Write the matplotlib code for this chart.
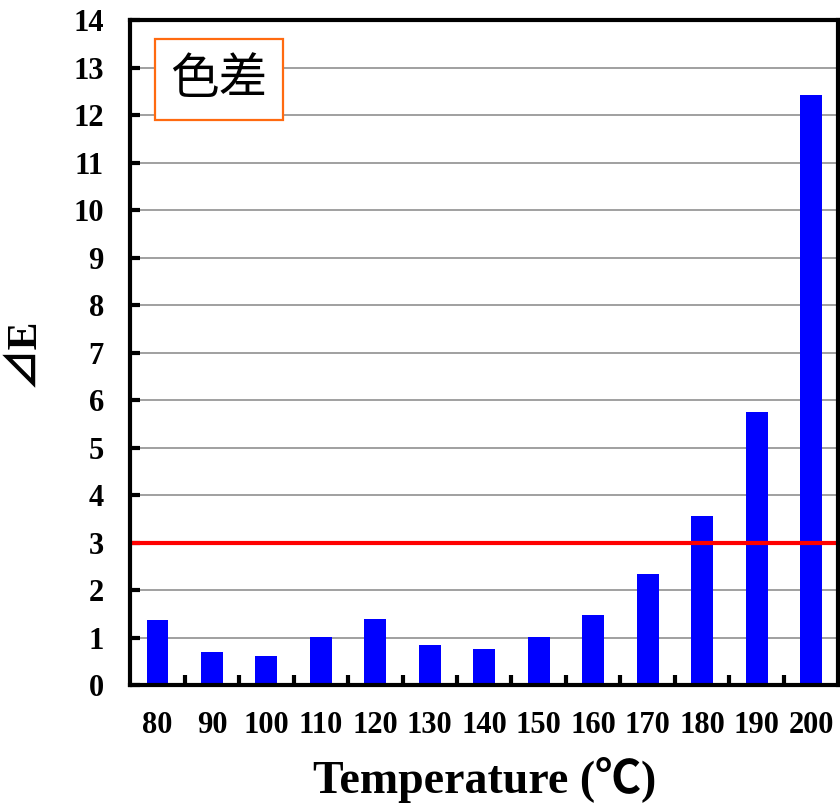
import matplotlib
matplotlib.use('Agg')
import matplotlib.pyplot as plt
import numpy as np

# Data
temperatures = ['80', '90', '100', '110', '120', '130', '140', '150', '160', '170', '180', '190', '200']
delta_e = [1.37, 0.70, 0.61, 1.02, 1.39, 0.85, 0.77, 1.01, 1.47, 2.34, 3.56, 5.76, 12.42]
threshold = 3.0
yticks = list(range(0, 15))

serif = ['Liberation Serif', 'Noto Sans CJK SC', 'DejaVu Sans']

fig = plt.figure(figsize=(8.4, 8.06), dpi=100)
ax = fig.add_axes([0.155, 0.150, 0.843, 0.825])

x = np.arange(len(temperatures))
ax.bar(x, delta_e, width=0.4, color='#0000FF', zorder=3)
ax.axhline(threshold, color='#FF0000', linewidth=3, zorder=4)

ax.set_xlim(-0.5, len(temperatures) - 0.5)
ax.set_ylim(0, 14)
ax.set_yticks(yticks)
ax.set_yticklabels([str(t) for t in yticks], family=serif, fontweight='bold', fontsize=22)
ax.set_xticks(x)
ax.set_xticklabels(temperatures, family=serif, fontweight='bold', fontsize=22)
ax.set_xticks(np.arange(0.5, len(temperatures) - 0.5, 1), minor=True)

ax.tick_params(axis='x', which='major', length=0, pad=19)
ax.tick_params(axis='x', which='minor', direction='in', length=7, width=3)
ax.tick_params(axis='y', which='major', direction='in', length=7, width=3, pad=19)

ax.grid(axis='y', color='#999999', linewidth=1.3, zorder=1)
for sp in ax.spines.values():
    sp.set_linewidth(3)
    sp.set_zorder(5)

ax.set_xlabel('Temperature (℃)', family=serif, fontweight='bold', fontsize=33, labelpad=12)
ax.set_ylabel('⊿E', family=serif, fontweight='bold', fontsize=30, labelpad=22)

ax.text(0.125, 0.911, '色差', transform=ax.transAxes, ha='center', va='center',
        family=['Noto Sans CJK SC', 'DejaVu Sans'], fontsize=35, zorder=6,
        bbox=dict(boxstyle='square,pad=0.32', facecolor='white', edgecolor='#FF6A10', linewidth=1.6))

fig.savefig('out.png', dpi=100)
plt.close(fig)
